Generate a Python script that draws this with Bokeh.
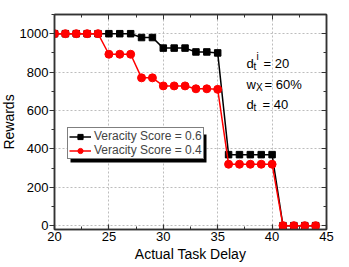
from bokeh.plotting import figure
from bokeh.models import (LinearAxis, Legend, LegendItem, Range1d, Label, BoxAnnotation,
                          SingleIntervalTicker, ColumnDataSource, CustomJSTickFormatter)
from bokeh.embed import file_html
from bokeh.resources import INLINE

# ---- data ----
delay = [20, 21, 22, 23, 24, 25, 26, 27, 28, 29, 30, 31, 32, 33, 34, 35, 36,
         37, 38, 39, 40, 41, 42, 43, 44]
reward_06 = [1000, 1000, 1000, 1000, 1000, 1000, 1000, 1000, 980, 980, 925, 925,
             925, 905, 905, 900, 370, 370, 370, 370, 370, 0, 0, 0, 0]
reward_04 = [1000, 1000, 1000, 1000, 1000, 893, 893, 893, 770, 770, 728, 728,
             728, 713, 713, 710, 320, 320, 320, 320, 320, 0, 0, 0, 0]
label_06 = "Veracity Score = 0.6"
label_04 = "Veracity Score = 0.4"
x_title = "Actual Task Delay"
y_title = "Rewards"

FONT = "Liberation Sans"
AX = "#333333"
FW, FH = 272, 215
X0, X1, Y0, Y1 = 20, 45, -20, 1100

p = figure(frame_width=FW, frame_height=FH, output_backend="svg",
           toolbar_location=None, x_range=Range1d(X0, X1), y_range=Range1d(Y0, Y1),
           min_border_left=0, min_border_right=14, min_border_top=14, min_border_bottom=0,
           x_axis_label=x_title, y_axis_label=y_title, background_fill_color="white",
           border_fill_color="white")
p.styles = {"margin-left": "-3px"}
p.outline_line_color = AX
p.outline_line_width = 1.5

xt = SingleIntervalTicker(interval=5, num_minor_ticks=2)
yt = SingleIntervalTicker(interval=200, num_minor_ticks=2)

for ax in p.xaxis:
    ax.ticker = xt
    ax.major_tick_in = 5
    ax.major_tick_out = 0
    ax.minor_tick_in = 3
    ax.minor_tick_out = 0
    ax.major_label_standoff = 2
    ax.axis_label_standoff = 2
for ax in p.yaxis:
    ax.ticker = yt
    ax.major_tick_in = 0
    ax.major_tick_out = 5
    ax.minor_tick_in = 0
    ax.minor_tick_out = 3
    ax.major_label_standoff = 1
    ax.axis_label_standoff = 0
for ax in list(p.xaxis) + list(p.yaxis):
    ax.axis_line_color = AX
    ax.axis_line_width = 1.5
    ax.major_tick_line_color = AX
    ax.minor_tick_line_color = AX
    ax.major_tick_line_width = 1.2
    ax.major_label_text_font = FONT
    ax.major_label_text_font_size = "13px"
    ax.major_label_text_color = "black"
    ax.axis_label_text_font = FONT
    ax.axis_label_text_font_size = "14px"
    ax.axis_label_text_font_style = "normal"
    ax.axis_label_text_color = "black"

blank = CustomJSTickFormatter(code="return ''")
top = LinearAxis(ticker=xt, formatter=blank, major_tick_in=5, major_tick_out=0,
                 minor_tick_in=3, minor_tick_out=0, major_label_text_font_size="1px",
                 major_label_standoff=0, axis_line_color=AX, axis_line_width=1.5,
                 major_tick_line_color=AX, minor_tick_line_color=AX)
right = LinearAxis(ticker=yt, formatter=blank, major_tick_in=5, major_tick_out=0,
                   minor_tick_in=3, minor_tick_out=0, major_label_text_font_size="1px",
                   major_label_standoff=0, axis_line_color=AX, axis_line_width=1.5,
                   major_tick_line_color=AX, minor_tick_line_color=AX)
p.add_layout(top, "above")
p.add_layout(right, "right")

p.xgrid.ticker = xt
p.ygrid.ticker = yt
p.grid.grid_line_color = "#bdbdbd"
p.grid.grid_line_dash = "2 2"
p.grid.grid_line_width = 1

src = ColumnDataSource(dict(x=delay, a=reward_06, b=reward_04))
l1 = p.line("x", "a", source=src, line_color="black", line_width=1.5)
m1 = p.scatter("x", "a", source=src, marker="square", size=6.5,
               fill_color="black", line_color="black")
l2 = p.line("x", "b", source=src, line_color="#ff0000", line_width=1.5)
m2 = p.scatter("x", "b", source=src, marker="circle", size=8,
               fill_color="#ff0000", line_color="#ff0000")

# legend box (screen px from frame bottom-left) and its drop shadow
LX, LY, LW, LH, SH = 13, 70, 136, 28, 3
def px2x(v):
    return X0 + v * (X1 - X0) / FW
def px2y(v):
    return Y0 + v * (Y1 - Y0) / FH
p.add_layout(BoxAnnotation(left=px2x(LX + SH), right=px2x(LX + LW + SH),
                           bottom=px2y(LY - SH), top=px2y(LY + LH - SH),
                           fill_color="black", fill_alpha=1, line_alpha=0))

leg = Legend(items=[LegendItem(label=label_06, renderers=[l1, m1]),
                    LegendItem(label=label_04, renderers=[l2, m2])],
             location=(LX, LY), background_fill_color="white",
             background_fill_alpha=1, border_line_color="black",
             label_text_font=FONT, label_text_font_size="12px", padding=1,
             spacing=0, margin=0, label_height=13, glyph_height=13, label_width=108,
             glyph_width=22, label_standoff=3, border_line_width=1)
p.add_layout(leg, "center")

# parameter annotations
ann = dict(text_font=FONT, text_color="black", text_baseline="alphabetic",
           x_units="data", y_units="data")
x0 = 37.65
for yb, parts in [(846, [("d", 0, 0, "13px"), ("t", 7, -3, "10px"), ("i", 10, 7, "10px"),
                         ("= 20", 17, 0, "13px")]),
                  (736, [("w", 0, 0, "13px"), ("X", 9.5, -3, "10px"),
                         ("= 60%", 18, 0, "13px")]),
                  (632, [("d", 0, 0, "13px"), ("t", 7, -3, "10px"),
                         ("= 40", 16, 0, "13px")])]:
    for txt, dx, dy, fs in parts:
        p.add_layout(Label(x=x0, y=yb, x_offset=dx, y_offset=dy, text=txt,
                           text_font_size=fs, **ann))

open("out.html", "w").write(file_html(p, INLINE))
